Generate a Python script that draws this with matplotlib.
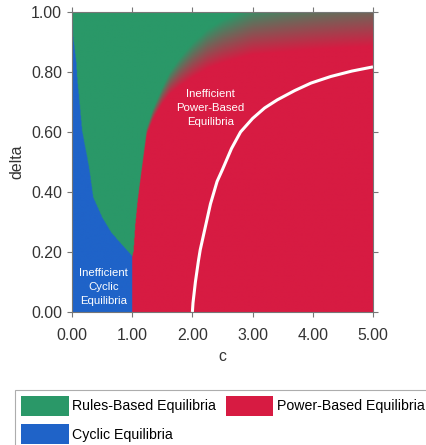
import numpy as np
import matplotlib
matplotlib.use("Agg")
import matplotlib.pyplot as plt
from matplotlib.patches import Patch

plt.rcParams["font.family"] = ["Liberation Sans", "DejaVu Sans"]

# Colours of the three equilibrium regions
GREEN = "#2A9868"
RED = "#D71B42"
BLUE = "#1F63C8"

# Boundary of cyclic region (c < 1): delta -> c
cyc_delta = [0.0, 0.185, 0.218, 0.262, 0.318, 0.38, 0.484, 0.6, 0.707, 0.763, 0.83, 0.913, 1.0]
cyc_c = [1.0, 1.0, 0.85, 0.656, 0.49, 0.35, 0.278, 0.167, 0.117, 0.09, 0.067, 0.017, 0.0]

# Boundary between power-based and rules-based (c >= 1): c -> delta, plus blur half-width
rb_c = [1.0, 1.02, 1.05, 1.09, 1.16, 1.2, 1.24, 1.35, 1.5, 1.63, 1.8, 2.0, 2.25, 2.5, 3.0, 3.5, 4.0, 4.5, 5.0]
rb_delta = [0.185, 0.2, 0.29, 0.373, 0.48, 0.54, 0.6, 0.66, 0.72, 0.763, 0.8, 0.837, 0.875, 0.9,
            0.936, 0.95, 0.962, 0.972, 0.98]
rb_blur = [0.0, 0.0, 0.0, 0.003, 0.005, 0.008, 0.012, 0.018, 0.028, 0.038, 0.048, 0.058, 0.066, 0.072,
           0.08, 0.086, 0.09, 0.094, 0.097]

# White efficiency curve inside the power-based region
line_c = [2.0, 2.01, 2.05, 2.1, 2.13, 2.2, 2.3, 2.41, 2.5, 2.65, 2.8, 3.0, 3.2, 3.41, 3.7, 3.97, 4.3, 4.65, 5.0]
line_delta = [0.0, 0.03, 0.1, 0.17, 0.207, 0.27, 0.36, 0.435, 0.475, 0.545, 0.6, 0.645, 0.68, 0.707, 0.738,
              0.763, 0.785, 0.803, 0.817]

x_ticks = [0, 1, 2, 3, 4, 5]
y_ticks = [0.0, 0.2, 0.4, 0.6, 0.8, 1.0]


def hex_rgb(h):
    return np.array([int(h[i:i + 2], 16) for i in (1, 3, 5)]) / 255.0


def region_image(nx=600, ny=360):
    """Build an RGB raster of the equilibrium regions."""
    cs = np.linspace(0, 5, nx)
    ds = np.linspace(0, 1, ny)
    C, D = np.meshgrid(cs, ds)

    green, red, blue = hex_rgb(GREEN), hex_rgb(RED), hex_rgb(BLUE)
    img = np.zeros((ny, nx, 3)) + green

    # Cyclic region
    left = C < np.interp(D, cyc_delta, cyc_c)
    img[left & (C < 1)] = blue

    # Power-based region with a soft edge near the top
    bd = np.interp(C, rb_c, rb_delta)
    hw = np.interp(C, rb_c, rb_blur)
    w = np.clip(0.5 + (D - bd) / (2 * np.maximum(hw, 1e-4)), 0, 1)
    mix = (1 - w)[..., None] * red + w[..., None] * green
    right = C >= 1
    img[right] = mix[right]
    return img


fig = plt.figure(figsize=(4.27, 4.45), dpi=100)
ax = fig.add_axes([0.1686, 0.2989, 0.7049, 0.6742])

ax.imshow(region_image(), extent=[0, 5, 0, 1], origin="lower", aspect="auto",
          interpolation="bilinear")
ax.plot(line_c, line_delta, color="white", lw=2.2, solid_capstyle="butt")

ax.text(2.3, 0.68, "Inefficient\nPower-Based\nEquilibria", color="white", fontsize=8.2,
        ha="center", va="center", linespacing=1.45)
ax.text(0.53, 0.083, "Inefficient\nCyclic\nEquilibria", color="white", fontsize=8.2,
        ha="center", va="center", linespacing=1.45)

ax.set_xlim(0, 5)
ax.set_ylim(0, 1)
ax.set_xticks(x_ticks)
ax.set_xticklabels([f"{v:.2f}" for v in x_ticks])
ax.set_yticks(y_ticks)
ax.set_yticklabels([f"{v:.2f}" for v in y_ticks])
ax.tick_params(direction="out", length=3.5, width=0.8, color="#777777", labelcolor="#333333",
               labelsize=11.4, top=True, right=True, labeltop=False, labelright=False)
ax.tick_params(axis="x", pad=8)
ax.tick_params(axis="y", pad=3.6)
for s in ax.spines.values():
    s.set_color("#777777")
    s.set_linewidth(0.8)
ax.set_xlabel("c", fontsize=11.4, color="#333333", labelpad=4)
ax.set_ylabel("delta", fontsize=11.4, color="#333333", labelpad=5)

handles = [Patch(facecolor=GREEN, label="Rules-Based Equilibria"),
           Patch(facecolor=BLUE, label="Cyclic Equilibria"),
           Patch(facecolor=RED, label="Power-Based Equilibria")]
leg = fig.legend(handles=handles, ncol=2, loc="upper left", bbox_to_anchor=(15 / 427, 1 - 390 / 445),
                 fontsize=10.15, frameon=True, fancybox=False, edgecolor="#999999",
                 handlelength=3.4, handleheight=1.8, handletextpad=0.25, columnspacing=0.68,
                 labelspacing=0.6, borderpad=0.4, borderaxespad=0)
leg.get_frame().set_linewidth(0.8)

fig.savefig("out.png", dpi=100)
